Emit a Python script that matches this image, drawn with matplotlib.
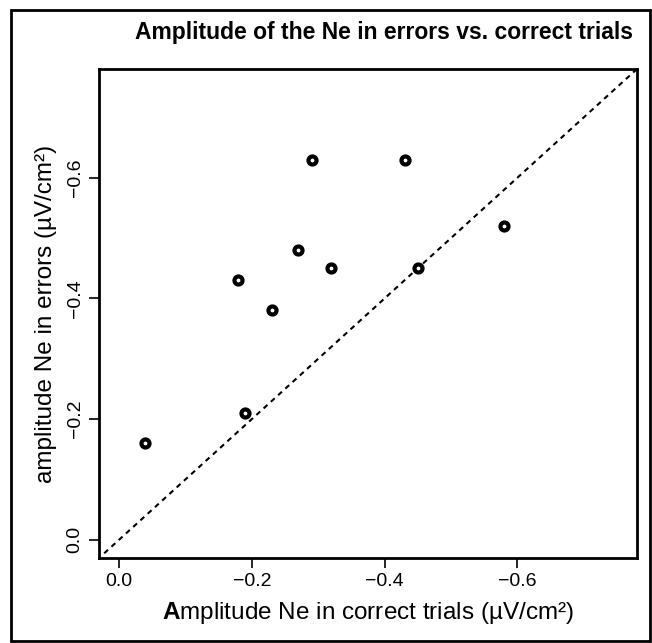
import matplotlib
matplotlib.use("Agg")
import matplotlib.pyplot as plt
from matplotlib.patches import Rectangle

plt.rcParams['font.family'] = ['Liberation Sans', 'DejaVu Sans']
plt.rcParams['mathtext.fontset'] = 'custom'
plt.rcParams['mathtext.bf'] = 'Liberation Sans:bold'
plt.rcParams['mathtext.rm'] = 'Liberation Sans'

correct_amp = [-0.04, -0.18, -0.19, -0.23, -0.27, -0.29, -0.32, -0.43, -0.45, -0.58]
error_amp = [-0.16, -0.43, -0.21, -0.38, -0.48, -0.63, -0.45, -0.63, -0.45, -0.52]
ticks = [0.0, -0.2, -0.4, -0.6]
tick_labels = ["0.0", "\u22120.2", "\u22120.4", "\u22120.6"]
xlabel_text = r"$\mathbf{A}$" + "mplitude Ne in correct trials (\u00b5V/cm\u00b2)"
ylabel_text = "amplitude Ne in errors (\u00b5V/cm\u00b2)"
title_text = "Amplitude of the Ne in errors vs. correct trials"

W, H = 652, 643
fig = plt.figure(figsize=(W / 100, H / 100), dpi=100)
ax = fig.add_axes([99 / W, 1 - 558 / H, (637 - 99) / W, (558 - 69) / H])

ax.plot(correct_amp, error_amp, 'o', ms=5.8, mfc='white', mec='black', mew=3.0, zorder=3)
ax.axline((0, 0), slope=1, color='black', ls=(0, (2.5, 2.2)), lw=1.5)

ax.set_xlim(0.03, -0.78)
ax.set_ylim(0.03, -0.78)
ax.set_xticks(ticks)
ax.set_xticklabels(tick_labels)
ax.set_yticks(ticks)
ax.set_yticklabels(tick_labels, rotation=90, va='center')
ax.tick_params(direction='out', length=7, width=1.2, labelsize=14, pad=4)
for s in ax.spines.values():
    s.set_linewidth(2)

ax.set_xlabel(xlabel_text, fontsize=17.5, labelpad=7)
ax.set_ylabel(ylabel_text, fontsize=17.5, labelpad=7)
fig.text(384 / W, 1 - 33 / H, title_text,
         fontsize=16.5, fontweight='bold', ha='center', va='center')

fig.patches.append(Rectangle((11 / W, 2 / H), (650 - 11) / W, (633 - 2) / H,
                             transform=fig.transFigure, fill=False, lw=2, ec='black'))

fig.savefig("out.png", dpi=100)
